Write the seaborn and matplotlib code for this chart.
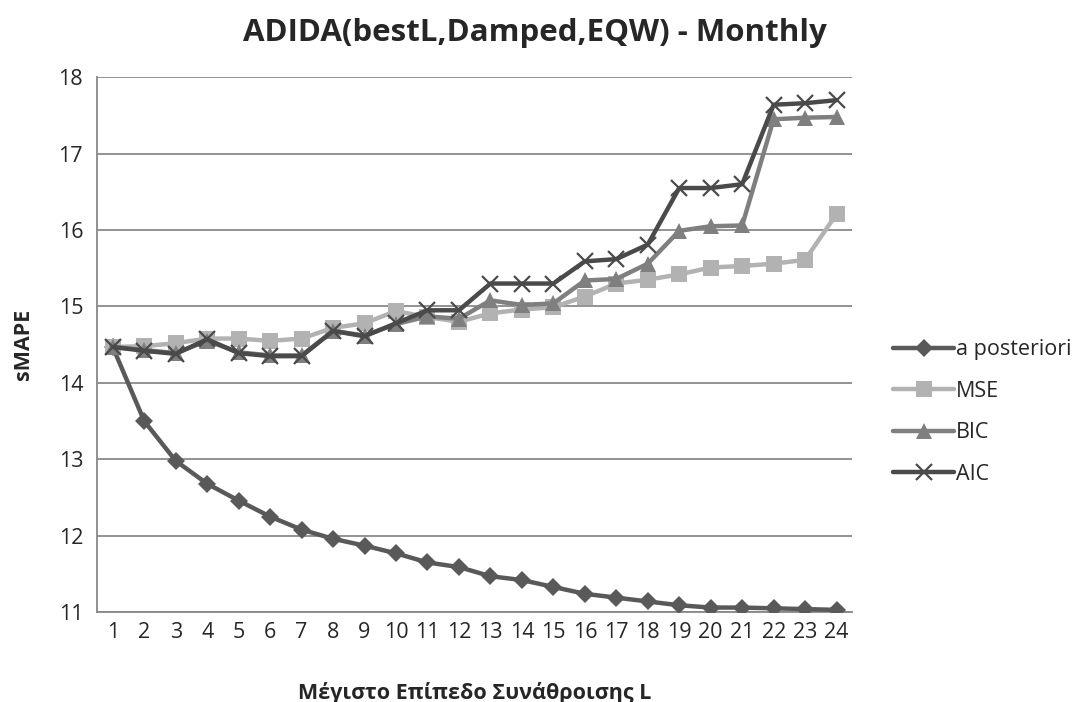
import numpy as np
import pandas as pd
import matplotlib
matplotlib.use("Agg")
import matplotlib.pyplot as plt
import seaborn as sns
from matplotlib.ticker import FixedLocator, NullFormatter

levels = list(range(1, 25))
a_posteriori = [14.47, 13.50, 12.98, 12.68, 12.46, 12.25, 12.08, 11.96, 11.87, 11.77, 11.65, 11.59,
                11.47, 11.42, 11.33, 11.24, 11.19, 11.14, 11.09, 11.06, 11.06, 11.05, 11.04, 11.03]
mse = [14.47, 14.48, 14.52, 14.58, 14.58, 14.55, 14.58, 14.72, 14.78, 14.94, 14.86, 14.80,
       14.91, 14.96, 14.99, 15.13, 15.30, 15.35, 15.42, 15.51, 15.53, 15.56, 15.61, 16.21]
bic = [14.47, 14.43, 14.39, 14.55, 14.40, 14.36, 14.36, 14.68, 14.62, 14.77, 14.87, 14.84,
       15.08, 15.02, 15.04, 15.34, 15.36, 15.56, 15.99, 16.05, 16.06, 17.45, 17.47, 17.48]
aic = [14.47, 14.42, 14.38, 14.57, 14.39, 14.35, 14.35, 14.68, 14.61, 14.78, 14.95, 14.95,
       15.30, 15.30, 15.30, 15.59, 15.62, 15.81, 16.55, 16.55, 16.60, 17.64, 17.66, 17.70]
series_names = ["a posteriori", "MSE", "BIC", "AIC"]
y_ticks = [11, 12, 13, 14, 15, 16, 17, 18]

df = pd.DataFrame({
    "L": levels * 4,
    "sMAPE": a_posteriori + mse + bic + aic,
    "method": sum([[n] * len(levels) for n in series_names], []),
})

sns.set_theme(style="white")
plt.rcParams["font.family"] = ["Open Sans", "DejaVu Sans"]

colors = {"a posteriori": "#595959", "MSE": "#b2b2b2", "BIC": "#7f7f7f", "AIC": "#4a4a4a"}
markers = {"a posteriori": "D", "MSE": "s", "BIC": "^", "AIC": "x"}
msizes = {"a posteriori": 9, "MSE": 11, "BIC": 11, "AIC": 12}

fig = plt.figure(figsize=(10.83, 7.02), dpi=100)
ax = fig.add_axes([0.0896, 0.128, 0.787 - 0.0896, 0.890 - 0.128])

for name in series_names:
    sub = df[df["method"] == name]
    sns.lineplot(data=sub, x="L", y="sMAPE", ax=ax, color=colors[name], linewidth=3.2,
                 marker=markers[name], markersize=msizes[name],
                 markeredgecolor=colors[name], markeredgewidth=1.6 if name == "AIC" else 0,
                 label=name, zorder=3)

tick_fs = 15.5
ax.set_xlim(0.5, 24.5)
ax.set_ylim(11, 18)
ax.set_yticks(y_ticks)
ax.set_yticklabels([str(v) for v in y_ticks], fontsize=tick_fs)
ax.set_xticks(levels)
ax.set_xticklabels([str(v) for v in levels], fontsize=tick_fs)
ax.xaxis.set_minor_locator(FixedLocator(np.arange(0.5, 25, 1)))
ax.xaxis.set_minor_formatter(NullFormatter())
ax.tick_params(axis="x", which="major", length=0, pad=7)
ax.tick_params(axis="x", which="minor", length=6, width=1.3, color="#888888", direction="out")
ax.tick_params(axis="y", which="major", length=5, width=1.3, color="#888888", direction="out", pad=5)
ax.grid(axis="y", color="#8a8a8a", linewidth=1.3, zorder=0)
ax.grid(axis="x", visible=False)
for s in ["top", "right"]:
    ax.spines[s].set_visible(False)
for s in ["left", "bottom"]:
    ax.spines[s].set_color("#888888")
    ax.spines[s].set_linewidth(1.3)

ax.set_xlabel("Μέγιστο Επίπεδο Συνάθροισης L", fontsize=15.5, fontweight="bold", labelpad=28)
ax.set_ylabel("sMAPE", fontsize=15.5, fontweight="bold", labelpad=18)
fig.text(0.494, 0.953, "ADIDA(bestL,Damped,EQW) - Monthly", ha="center", va="center",
         fontsize=22.5, fontweight="bold")

leg = ax.legend(loc="center left", bbox_to_anchor=(0.825, 0.413), bbox_transform=fig.transFigure,
                frameon=False, fontsize=15.5, handlelength=2.8, labelspacing=0.95,
                handletextpad=0.1, borderaxespad=0, borderpad=0)

fig.savefig("out.png", dpi=100)
